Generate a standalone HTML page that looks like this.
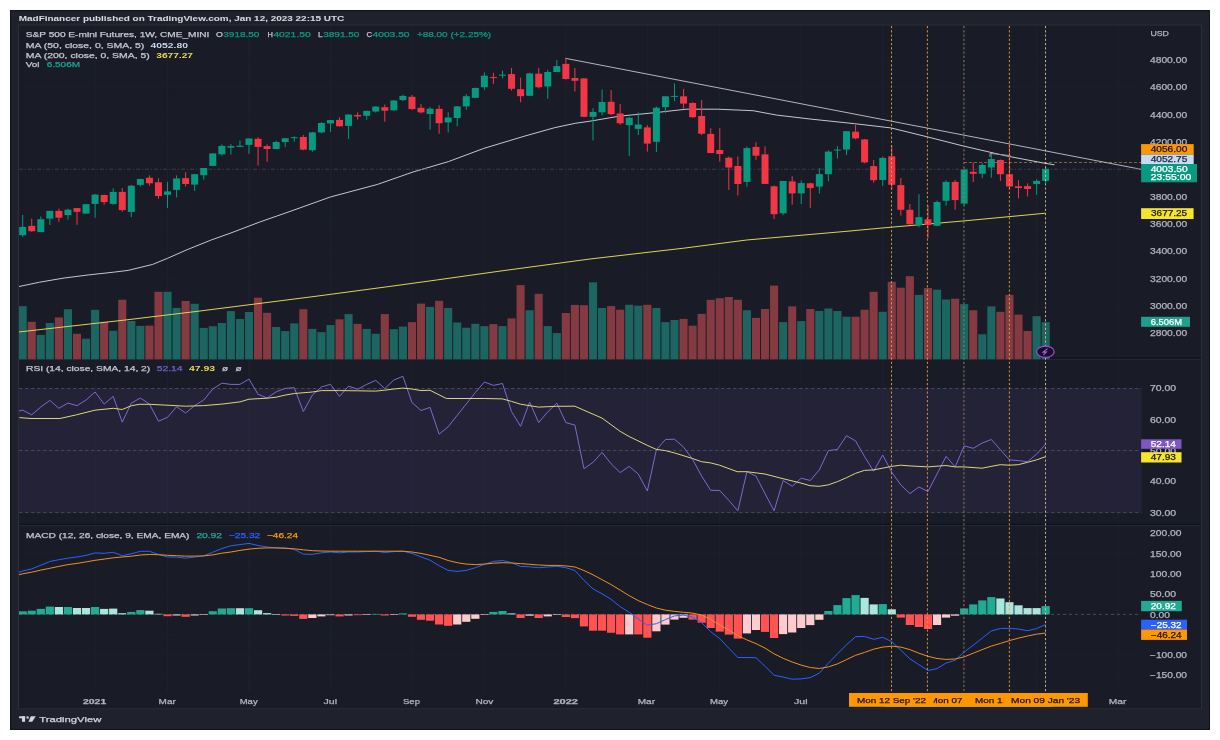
<!DOCTYPE html>
<html><head><meta charset="utf-8"><title>ES1! chart</title>
<style>
html,body{margin:0;padding:0;background:#ffffff;width:1220px;height:740px;overflow:hidden}
svg{display:block;will-change:transform}
text{font-family:"Liberation Sans",sans-serif}
</style></head><body>
<svg width="1220" height="740" viewBox="0 0 1220 740">
<rect x="0" y="0" width="1220" height="740" fill="#ffffff"/>
<rect x="10" y="10" width="1200" height="720" fill="#1f222d"/>
<rect x="10.5" y="10.5" width="1199" height="719" fill="none" stroke="#10121a" stroke-width="1"/>
<text x="18.8" y="21.4" font-size="8" fill="#d8dae0" font-weight="bold" stroke="#d8dae0" stroke-width="0.05" textLength="325.4" lengthAdjust="spacingAndGlyphs">MadFinancer published on TradingView.com, Jan 12, 2023 22:15 UTC</text>
<rect x="18.5" y="25" width="1183" height="683.8" fill="#191c27" stroke="#2a2e39" stroke-width="1"/>
<defs><clipPath id="cp"><rect x="19" y="26" width="1122.5" height="333.5"/></clipPath><clipPath id="cr"><rect x="19" y="359" width="1122.5" height="166"/></clipPath><clipPath id="cm"><rect x="19" y="526" width="1122.5" height="166"/></clipPath></defs>
<line x1="95.1" y1="26" x2="95.1" y2="692" stroke="#1e222e" stroke-width="1"/>
<line x1="167.52" y1="26" x2="167.52" y2="692" stroke="#1e222e" stroke-width="1"/>
<line x1="249" y1="26" x2="249" y2="692" stroke="#1e222e" stroke-width="1"/>
<line x1="330.48" y1="26" x2="330.48" y2="692" stroke="#1e222e" stroke-width="1"/>
<line x1="411.96" y1="26" x2="411.96" y2="692" stroke="#1e222e" stroke-width="1"/>
<line x1="484.38" y1="26" x2="484.38" y2="692" stroke="#1e222e" stroke-width="1"/>
<line x1="565.86" y1="26" x2="565.86" y2="692" stroke="#1e222e" stroke-width="1"/>
<line x1="647.33" y1="26" x2="647.33" y2="692" stroke="#1e222e" stroke-width="1"/>
<line x1="719.76" y1="26" x2="719.76" y2="692" stroke="#1e222e" stroke-width="1"/>
<line x1="801.23" y1="26" x2="801.23" y2="692" stroke="#1e222e" stroke-width="1"/>
<line x1="882.71" y1="26" x2="882.71" y2="692" stroke="#1e222e" stroke-width="1"/>
<line x1="964.19" y1="26" x2="964.19" y2="692" stroke="#1e222e" stroke-width="1"/>
<line x1="1036.61" y1="26" x2="1036.61" y2="692" stroke="#1e222e" stroke-width="1"/>
<line x1="1118.09" y1="26" x2="1118.09" y2="692" stroke="#1e222e" stroke-width="1"/>
<line x1="19" y1="60.2" x2="1141.5" y2="60.2" stroke="#1c1f2a" stroke-width="1"/>
<line x1="19" y1="87.52" x2="1141.5" y2="87.52" stroke="#1c1f2a" stroke-width="1"/>
<line x1="19" y1="114.84" x2="1141.5" y2="114.84" stroke="#1c1f2a" stroke-width="1"/>
<line x1="19" y1="142.16" x2="1141.5" y2="142.16" stroke="#1c1f2a" stroke-width="1"/>
<line x1="19" y1="169.48" x2="1141.5" y2="169.48" stroke="#1c1f2a" stroke-width="1"/>
<line x1="19" y1="196.8" x2="1141.5" y2="196.8" stroke="#1c1f2a" stroke-width="1"/>
<line x1="19" y1="224.12" x2="1141.5" y2="224.12" stroke="#1c1f2a" stroke-width="1"/>
<line x1="19" y1="251.44" x2="1141.5" y2="251.44" stroke="#1c1f2a" stroke-width="1"/>
<line x1="19" y1="278.76" x2="1141.5" y2="278.76" stroke="#1c1f2a" stroke-width="1"/>
<line x1="19" y1="306.08" x2="1141.5" y2="306.08" stroke="#1c1f2a" stroke-width="1"/>
<line x1="19" y1="333.4" x2="1141.5" y2="333.4" stroke="#1c1f2a" stroke-width="1"/>
<rect x="19" y="388.5" width="1122.5" height="124.1" fill="#7e57c2" fill-opacity="0.1"/>
<line x1="19" y1="388.5" x2="1141.5" y2="388.5" stroke="#787b86" stroke-opacity="0.45" stroke-width="1" stroke-dasharray="3.5,2.5"/>
<line x1="19" y1="450.55" x2="1141.5" y2="450.55" stroke="#787b86" stroke-opacity="0.45" stroke-width="1" stroke-dasharray="3.5,2.5"/>
<line x1="19" y1="512.6" x2="1141.5" y2="512.6" stroke="#787b86" stroke-opacity="0.45" stroke-width="1" stroke-dasharray="3.5,2.5"/>
<line x1="19" y1="533.2" x2="1141.5" y2="533.2" stroke="#1c1f2a" stroke-width="1"/>
<line x1="19" y1="553.5" x2="1141.5" y2="553.5" stroke="#1c1f2a" stroke-width="1"/>
<line x1="19" y1="573.8" x2="1141.5" y2="573.8" stroke="#1c1f2a" stroke-width="1"/>
<line x1="19" y1="594.1" x2="1141.5" y2="594.1" stroke="#1c1f2a" stroke-width="1"/>
<line x1="19" y1="614.4" x2="1141.5" y2="614.4" stroke="#1c1f2a" stroke-width="1"/>
<line x1="19" y1="634.7" x2="1141.5" y2="634.7" stroke="#1c1f2a" stroke-width="1"/>
<line x1="19" y1="655" x2="1141.5" y2="655" stroke="#1c1f2a" stroke-width="1"/>
<line x1="19" y1="675.3" x2="1141.5" y2="675.3" stroke="#1c1f2a" stroke-width="1"/>
<line x1="19" y1="359.3" x2="1201" y2="359.3" stroke="#262a35" stroke-width="1"/>
<line x1="19" y1="358" x2="1201" y2="358" stroke="#0f1118" stroke-width="1.2"/>
<line x1="19" y1="525.6" x2="1201" y2="525.6" stroke="#262a35" stroke-width="1"/>
<line x1="19" y1="524.3" x2="1201" y2="524.3" stroke="#0f1118" stroke-width="1.2"/>
<line x1="19" y1="692" x2="1201" y2="692" stroke="#1c1f2a" stroke-width="1"/>
<g clip-path="url(#cp)">
<rect x="18.63" y="306.2" width="8.1" height="53.3" fill="#1d6560"/>
<rect x="27.68" y="321.8" width="8.1" height="37.7" fill="#843a40"/>
<rect x="36.73" y="334.9" width="8.1" height="24.6" fill="#1d6560"/>
<rect x="45.78" y="323" width="8.1" height="36.5" fill="#1d6560"/>
<rect x="54.84" y="317.4" width="8.1" height="42.1" fill="#843a40"/>
<rect x="63.89" y="309.2" width="8.1" height="50.3" fill="#1d6560"/>
<rect x="72.94" y="333.8" width="8.1" height="25.7" fill="#843a40"/>
<rect x="82" y="338.7" width="8.1" height="20.8" fill="#1d6560"/>
<rect x="91.05" y="309.8" width="8.1" height="49.7" fill="#1d6560"/>
<rect x="100.1" y="321.8" width="8.1" height="37.7" fill="#843a40"/>
<rect x="109.16" y="330.8" width="8.1" height="28.7" fill="#1d6560"/>
<rect x="118.21" y="299.7" width="8.1" height="59.8" fill="#843a40"/>
<rect x="127.26" y="321" width="8.1" height="38.5" fill="#1d6560"/>
<rect x="136.31" y="325.9" width="8.1" height="33.6" fill="#1d6560"/>
<rect x="145.37" y="325.6" width="8.1" height="33.9" fill="#843a40"/>
<rect x="154.42" y="291.8" width="8.1" height="67.7" fill="#843a40"/>
<rect x="163.47" y="291.8" width="8.1" height="67.7" fill="#1d6560"/>
<rect x="172.53" y="307.9" width="8.1" height="51.6" fill="#1d6560"/>
<rect x="181.58" y="301" width="8.1" height="58.5" fill="#843a40"/>
<rect x="190.63" y="303.8" width="8.1" height="55.7" fill="#1d6560"/>
<rect x="199.69" y="327.9" width="8.1" height="31.6" fill="#1d6560"/>
<rect x="208.74" y="326.2" width="8.1" height="33.3" fill="#1d6560"/>
<rect x="217.79" y="323" width="8.1" height="36.5" fill="#1d6560"/>
<rect x="226.84" y="311.1" width="8.1" height="48.4" fill="#1d6560"/>
<rect x="235.9" y="319" width="8.1" height="40.5" fill="#1d6560"/>
<rect x="244.95" y="312" width="8.1" height="47.5" fill="#1d6560"/>
<rect x="254" y="297.7" width="8.1" height="61.8" fill="#843a40"/>
<rect x="263.06" y="312.8" width="8.1" height="46.7" fill="#843a40"/>
<rect x="272.11" y="327" width="8.1" height="32.5" fill="#1d6560"/>
<rect x="281.16" y="331.1" width="8.1" height="28.4" fill="#1d6560"/>
<rect x="290.22" y="323.4" width="8.1" height="36.1" fill="#1d6560"/>
<rect x="299.27" y="309.2" width="8.1" height="50.3" fill="#843a40"/>
<rect x="308.32" y="328.9" width="8.1" height="30.6" fill="#1d6560"/>
<rect x="317.38" y="332.1" width="8.1" height="27.4" fill="#1d6560"/>
<rect x="326.43" y="325.1" width="8.1" height="34.4" fill="#1d6560"/>
<rect x="335.48" y="319.3" width="8.1" height="40.2" fill="#843a40"/>
<rect x="344.53" y="314.1" width="8.1" height="45.4" fill="#1d6560"/>
<rect x="353.59" y="323.9" width="8.1" height="35.6" fill="#843a40"/>
<rect x="362.64" y="328.9" width="8.1" height="30.6" fill="#1d6560"/>
<rect x="371.69" y="333.8" width="8.1" height="25.7" fill="#1d6560"/>
<rect x="380.75" y="314.1" width="8.1" height="45.4" fill="#843a40"/>
<rect x="389.8" y="329.2" width="8.1" height="30.3" fill="#1d6560"/>
<rect x="398.85" y="326.6" width="8.1" height="32.9" fill="#1d6560"/>
<rect x="407.91" y="322.1" width="8.1" height="37.4" fill="#843a40"/>
<rect x="416.96" y="303.6" width="8.1" height="55.9" fill="#843a40"/>
<rect x="426.01" y="306.9" width="8.1" height="52.6" fill="#1d6560"/>
<rect x="435.06" y="300.8" width="8.1" height="58.7" fill="#843a40"/>
<rect x="444.12" y="308" width="8.1" height="51.5" fill="#1d6560"/>
<rect x="453.17" y="322.5" width="8.1" height="37" fill="#1d6560"/>
<rect x="462.22" y="327.7" width="8.1" height="31.8" fill="#1d6560"/>
<rect x="471.28" y="323.8" width="8.1" height="35.7" fill="#1d6560"/>
<rect x="480.33" y="326.1" width="8.1" height="33.4" fill="#1d6560"/>
<rect x="489.38" y="324.1" width="8.1" height="35.4" fill="#843a40"/>
<rect x="498.44" y="326.1" width="8.1" height="33.4" fill="#1d6560"/>
<rect x="507.49" y="318.4" width="8.1" height="41.1" fill="#843a40"/>
<rect x="516.54" y="285.1" width="8.1" height="74.4" fill="#843a40"/>
<rect x="525.59" y="310.2" width="8.1" height="49.3" fill="#1d6560"/>
<rect x="534.65" y="293.8" width="8.1" height="65.7" fill="#843a40"/>
<rect x="543.7" y="326.1" width="8.1" height="33.4" fill="#1d6560"/>
<rect x="552.75" y="333.1" width="8.1" height="26.4" fill="#1d6560"/>
<rect x="561.81" y="313" width="8.1" height="46.5" fill="#843a40"/>
<rect x="570.86" y="304.9" width="8.1" height="54.6" fill="#843a40"/>
<rect x="579.91" y="305.2" width="8.1" height="54.3" fill="#843a40"/>
<rect x="588.97" y="282.3" width="8.1" height="77.2" fill="#1d6560"/>
<rect x="598.02" y="308" width="8.1" height="51.5" fill="#1d6560"/>
<rect x="607.07" y="306.1" width="8.1" height="53.4" fill="#843a40"/>
<rect x="616.12" y="309.7" width="8.1" height="49.8" fill="#843a40"/>
<rect x="625.18" y="304.8" width="8.1" height="54.7" fill="#1d6560"/>
<rect x="634.23" y="305.7" width="8.1" height="53.8" fill="#1d6560"/>
<rect x="643.28" y="304.8" width="8.1" height="54.7" fill="#843a40"/>
<rect x="652.34" y="308" width="8.1" height="51.5" fill="#1d6560"/>
<rect x="661.39" y="322.1" width="8.1" height="37.4" fill="#1d6560"/>
<rect x="670.44" y="320" width="8.1" height="39.5" fill="#1d6560"/>
<rect x="679.5" y="318.9" width="8.1" height="40.6" fill="#843a40"/>
<rect x="688.55" y="325.7" width="8.1" height="33.8" fill="#843a40"/>
<rect x="697.6" y="313.9" width="8.1" height="45.6" fill="#843a40"/>
<rect x="706.65" y="299.8" width="8.1" height="59.7" fill="#843a40"/>
<rect x="715.71" y="298.2" width="8.1" height="61.3" fill="#843a40"/>
<rect x="724.76" y="297" width="8.1" height="62.5" fill="#843a40"/>
<rect x="733.81" y="299.8" width="8.1" height="59.7" fill="#843a40"/>
<rect x="742.87" y="310.2" width="8.1" height="49.3" fill="#1d6560"/>
<rect x="751.92" y="317.9" width="8.1" height="41.6" fill="#843a40"/>
<rect x="760.97" y="309" width="8.1" height="50.5" fill="#843a40"/>
<rect x="770.03" y="285.6" width="8.1" height="73.9" fill="#843a40"/>
<rect x="779.08" y="322.1" width="8.1" height="37.4" fill="#1d6560"/>
<rect x="788.13" y="306.4" width="8.1" height="53.1" fill="#843a40"/>
<rect x="797.18" y="321.1" width="8.1" height="38.4" fill="#1d6560"/>
<rect x="806.24" y="309" width="8.1" height="50.5" fill="#843a40"/>
<rect x="815.29" y="311" width="8.1" height="48.5" fill="#1d6560"/>
<rect x="824.34" y="308.5" width="8.1" height="51" fill="#1d6560"/>
<rect x="833.4" y="311" width="8.1" height="48.5" fill="#1d6560"/>
<rect x="842.45" y="316.7" width="8.1" height="42.8" fill="#1d6560"/>
<rect x="851.5" y="316.7" width="8.1" height="42.8" fill="#843a40"/>
<rect x="860.56" y="309.7" width="8.1" height="49.8" fill="#843a40"/>
<rect x="869.61" y="291.8" width="8.1" height="67.7" fill="#843a40"/>
<rect x="878.66" y="311.8" width="8.1" height="47.7" fill="#1d6560"/>
<rect x="887.71" y="281.8" width="8.1" height="77.7" fill="#843a40"/>
<rect x="896.77" y="287.7" width="8.1" height="71.8" fill="#843a40"/>
<rect x="905.82" y="276.2" width="8.1" height="83.3" fill="#843a40"/>
<rect x="914.87" y="294.9" width="8.1" height="64.6" fill="#1d6560"/>
<rect x="923.93" y="288" width="8.1" height="71.5" fill="#843a40"/>
<rect x="932.98" y="289.7" width="8.1" height="69.8" fill="#1d6560"/>
<rect x="942.03" y="299.5" width="8.1" height="60" fill="#1d6560"/>
<rect x="951.09" y="298.7" width="8.1" height="60.8" fill="#843a40"/>
<rect x="960.14" y="304.1" width="8.1" height="55.4" fill="#1d6560"/>
<rect x="969.19" y="310.2" width="8.1" height="49.3" fill="#843a40"/>
<rect x="978.24" y="334.3" width="8.1" height="25.2" fill="#1d6560"/>
<rect x="987.3" y="306.4" width="8.1" height="53.1" fill="#1d6560"/>
<rect x="996.35" y="311.8" width="8.1" height="47.7" fill="#843a40"/>
<rect x="1005.4" y="294.9" width="8.1" height="64.6" fill="#843a40"/>
<rect x="1014.46" y="314.6" width="8.1" height="44.9" fill="#843a40"/>
<rect x="1023.51" y="331" width="8.1" height="28.5" fill="#843a40"/>
<rect x="1032.56" y="316.2" width="8.1" height="43.3" fill="#1d6560"/>
<rect x="1041.62" y="322.1" width="8.1" height="37.4" fill="#1d6560"/>
<polyline fill="none" stroke="#e0d35a" stroke-width="1" points="18.7,332 128,319.7 200,311 315,296.4 390,286.4 436.6,280 500,271.1 590,259 683.6,248.2 746.7,240 850,231 880,228.2 964,220.9 1030,214.7 1045.5,213.2"/>
<polyline fill="none" stroke="#c3c7d3" stroke-width="1" points="18.7,286.6 39.6,282.2 64.2,278 88.8,274.9 113.4,272.2 128.1,270.4 152.7,264.4 167.5,258.3 187.1,249.7 211.7,239.8 230,233.3 259.5,222.1 289,211.8 330.3,197 377.5,184.4 413,172 448.4,161.6 483.8,148.4 525,136 554.6,127.7 575.2,123.3 590,121.2 619.3,116.2 654.8,112.7 686.2,109.2 717.7,109.2 753.1,110.7 776.7,115.1 810,119 854.6,123.7 890.8,127.9 927.1,136.8 963.3,146 1005.1,155.7 1045.5,163.4 1054.5,164.8"/>
<line x1="565.3" y1="58.3" x2="1141.5" y2="169.4" stroke="#b2b5be" stroke-width="1"/>
<line x1="19" y1="169.2" x2="1141.5" y2="169.2" stroke="#3a3f4c" stroke-width="1" stroke-dasharray="4,2,1,2"/>
<line x1="964" y1="162.5" x2="1141.5" y2="162.5" stroke="#ffb74d" stroke-opacity="0.45" stroke-width="1" stroke-dasharray="3,2"/>
<polyline fill="none" stroke="#9598a1" stroke-width="1" points="990,157 990,153.4 1010.5,155.6"/>
<rect x="22.18" y="215" width="1" height="21.8" fill="#089981"/>
<rect x="19.18" y="226.9" width="7" height="8.3" fill="#089981"/>
<rect x="31.23" y="218.7" width="1" height="13.1" fill="#f23645"/>
<rect x="28.23" y="225.9" width="7" height="5.3" fill="#f23645"/>
<rect x="40.28" y="216.5" width="1" height="15.6" fill="#089981"/>
<rect x="37.28" y="219.2" width="7" height="12.9" fill="#089981"/>
<rect x="49.33" y="210.7" width="1" height="14.3" fill="#089981"/>
<rect x="46.33" y="210.9" width="7" height="7.7" fill="#089981"/>
<rect x="58.39" y="208.7" width="1" height="13.1" fill="#f23645"/>
<rect x="55.39" y="210.9" width="7" height="6.8" fill="#f23645"/>
<rect x="67.44" y="208.7" width="1" height="10.9" fill="#089981"/>
<rect x="64.44" y="209.7" width="7" height="5.3" fill="#089981"/>
<rect x="76.49" y="207.9" width="1" height="16.9" fill="#f23645"/>
<rect x="73.49" y="208.1" width="7" height="3.7" fill="#f23645"/>
<rect x="85.55" y="203.8" width="1" height="9.8" fill="#089981"/>
<rect x="82.55" y="204.2" width="7" height="9.4" fill="#089981"/>
<rect x="94.6" y="194.1" width="1" height="23.6" fill="#089981"/>
<rect x="91.6" y="194.6" width="7" height="9.3" fill="#089981"/>
<rect x="103.65" y="194.6" width="1" height="10.2" fill="#f23645"/>
<rect x="100.65" y="195" width="7" height="7.1" fill="#f23645"/>
<rect x="112.71" y="188.4" width="1" height="16.4" fill="#089981"/>
<rect x="109.71" y="191.9" width="7" height="12" fill="#089981"/>
<rect x="121.76" y="188" width="1" height="23.8" fill="#f23645"/>
<rect x="118.76" y="191.9" width="7" height="18.2" fill="#f23645"/>
<rect x="130.81" y="184.9" width="1" height="32.2" fill="#089981"/>
<rect x="127.81" y="185.7" width="7" height="26.2" fill="#089981"/>
<rect x="139.87" y="178.6" width="1" height="7.8" fill="#089981"/>
<rect x="136.87" y="179" width="7" height="5.9" fill="#089981"/>
<rect x="148.92" y="175.3" width="1" height="10.4" fill="#f23645"/>
<rect x="145.92" y="177.7" width="7" height="5.6" fill="#f23645"/>
<rect x="157.97" y="178.3" width="1" height="20.4" fill="#f23645"/>
<rect x="154.97" y="182.3" width="7" height="13.7" fill="#f23645"/>
<rect x="167.02" y="181.8" width="1" height="26.2" fill="#089981"/>
<rect x="164.02" y="191.4" width="7" height="3.4" fill="#089981"/>
<rect x="176.08" y="175.4" width="1" height="22.1" fill="#089981"/>
<rect x="173.08" y="178.5" width="7" height="11.4" fill="#089981"/>
<rect x="185.13" y="172.3" width="1" height="14.2" fill="#f23645"/>
<rect x="182.13" y="178.1" width="7" height="5.9" fill="#f23645"/>
<rect x="194.18" y="174.2" width="1" height="16.6" fill="#089981"/>
<rect x="191.18" y="174.2" width="7" height="10.4" fill="#089981"/>
<rect x="203.24" y="168" width="1" height="11.7" fill="#089981"/>
<rect x="200.24" y="168" width="7" height="7.2" fill="#089981"/>
<rect x="212.29" y="153.3" width="1" height="12.6" fill="#089981"/>
<rect x="209.29" y="153.5" width="7" height="12.4" fill="#089981"/>
<rect x="221.34" y="144.4" width="1" height="11.1" fill="#089981"/>
<rect x="218.34" y="145.9" width="7" height="8.4" fill="#089981"/>
<rect x="230.4" y="144.1" width="1" height="10.4" fill="#089981"/>
<rect x="227.4" y="146.1" width="7" height="1.6" fill="#089981"/>
<rect x="239.45" y="140.4" width="1" height="6.7" fill="#089981"/>
<rect x="236.45" y="145.7" width="7" height="1.2" fill="#089981"/>
<rect x="248.5" y="138.3" width="1" height="15.6" fill="#089981"/>
<rect x="245.5" y="138.5" width="7" height="6.4" fill="#089981"/>
<rect x="257.55" y="137.3" width="1" height="28.3" fill="#f23645"/>
<rect x="254.55" y="138.8" width="7" height="8.1" fill="#f23645"/>
<rect x="266.61" y="144.4" width="1" height="17.5" fill="#f23645"/>
<rect x="263.61" y="146.1" width="7" height="2.9" fill="#f23645"/>
<rect x="275.66" y="140.7" width="1" height="8.6" fill="#089981"/>
<rect x="272.66" y="142" width="7" height="7" fill="#089981"/>
<rect x="284.71" y="137.9" width="1" height="9" fill="#089981"/>
<rect x="281.71" y="138.3" width="7" height="3.7" fill="#089981"/>
<rect x="293.77" y="136.4" width="1" height="5.2" fill="#089981"/>
<rect x="290.77" y="137.2" width="7" height="1" fill="#089981"/>
<rect x="302.82" y="134.9" width="1" height="15.3" fill="#f23645"/>
<rect x="299.82" y="137" width="7" height="12.6" fill="#f23645"/>
<rect x="311.87" y="131.8" width="1" height="19.9" fill="#089981"/>
<rect x="308.87" y="132.4" width="7" height="17.8" fill="#089981"/>
<rect x="320.93" y="122.2" width="1" height="11.1" fill="#089981"/>
<rect x="317.93" y="123" width="7" height="9.4" fill="#089981"/>
<rect x="329.98" y="119.8" width="1" height="12" fill="#089981"/>
<rect x="326.98" y="120.1" width="7" height="3.3" fill="#089981"/>
<rect x="339.03" y="117.3" width="1" height="9.3" fill="#f23645"/>
<rect x="336.03" y="119.9" width="7" height="6.4" fill="#f23645"/>
<rect x="348.08" y="114" width="1" height="24.9" fill="#089981"/>
<rect x="345.08" y="114.6" width="7" height="11.3" fill="#089981"/>
<rect x="357.14" y="112.4" width="1" height="7.1" fill="#f23645"/>
<rect x="354.14" y="115" width="7" height="1.4" fill="#f23645"/>
<rect x="366.19" y="110.7" width="1" height="9.1" fill="#089981"/>
<rect x="363.19" y="110.9" width="7" height="4.9" fill="#089981"/>
<rect x="375.24" y="106" width="1" height="6.7" fill="#089981"/>
<rect x="372.24" y="106.6" width="7" height="4.9" fill="#089981"/>
<rect x="384.3" y="104.5" width="1" height="17.2" fill="#f23645"/>
<rect x="381.3" y="107.2" width="7" height="3.5" fill="#f23645"/>
<rect x="393.35" y="100.1" width="1" height="10.6" fill="#089981"/>
<rect x="390.35" y="100.5" width="7" height="9.8" fill="#089981"/>
<rect x="402.4" y="94.7" width="1" height="6.4" fill="#089981"/>
<rect x="399.4" y="95.9" width="7" height="4.2" fill="#089981"/>
<rect x="411.46" y="94.9" width="1" height="14.8" fill="#f23645"/>
<rect x="408.46" y="96.8" width="7" height="12.3" fill="#f23645"/>
<rect x="420.51" y="104.1" width="1" height="9.3" fill="#f23645"/>
<rect x="417.51" y="107.8" width="7" height="4.6" fill="#f23645"/>
<rect x="429.56" y="107" width="1" height="22.6" fill="#089981"/>
<rect x="426.56" y="108.7" width="7" height="5.3" fill="#089981"/>
<rect x="438.61" y="105.2" width="1" height="28.5" fill="#f23645"/>
<rect x="435.61" y="108.9" width="7" height="14.3" fill="#f23645"/>
<rect x="447.67" y="112.2" width="1" height="20.3" fill="#089981"/>
<rect x="444.67" y="117.5" width="7" height="4.9" fill="#089981"/>
<rect x="456.72" y="106" width="1" height="20.3" fill="#089981"/>
<rect x="453.72" y="106.4" width="7" height="11.6" fill="#089981"/>
<rect x="465.77" y="94.1" width="1" height="15.6" fill="#089981"/>
<rect x="462.77" y="96.2" width="7" height="10.2" fill="#089981"/>
<rect x="474.83" y="87.6" width="1" height="10.4" fill="#089981"/>
<rect x="471.83" y="88" width="7" height="9.8" fill="#089981"/>
<rect x="483.88" y="72.5" width="1" height="17.2" fill="#089981"/>
<rect x="480.88" y="75.7" width="7" height="11.5" fill="#089981"/>
<rect x="492.93" y="72.8" width="1" height="11.1" fill="#f23645"/>
<rect x="489.93" y="77.1" width="7" height="1" fill="#f23645"/>
<rect x="501.99" y="70.7" width="1" height="7.7" fill="#089981"/>
<rect x="498.99" y="74.7" width="7" height="1" fill="#089981"/>
<rect x="511.04" y="67.9" width="1" height="22.8" fill="#f23645"/>
<rect x="508.04" y="74.1" width="7" height="14.7" fill="#f23645"/>
<rect x="520.09" y="77.7" width="1" height="24.6" fill="#f23645"/>
<rect x="517.09" y="89.2" width="7" height="7" fill="#f23645"/>
<rect x="529.14" y="72.8" width="1" height="23.4" fill="#089981"/>
<rect x="526.14" y="73.4" width="7" height="22.4" fill="#089981"/>
<rect x="538.2" y="67.9" width="1" height="20.5" fill="#f23645"/>
<rect x="535.2" y="73.7" width="7" height="13.5" fill="#f23645"/>
<rect x="547.25" y="69.8" width="1" height="28.9" fill="#089981"/>
<rect x="544.25" y="72" width="7" height="14.4" fill="#089981"/>
<rect x="556.3" y="60.2" width="1" height="12" fill="#089981"/>
<rect x="553.3" y="66.1" width="7" height="5.9" fill="#089981"/>
<rect x="565.36" y="58.4" width="1" height="21.2" fill="#f23645"/>
<rect x="562.36" y="63.9" width="7" height="15.1" fill="#f23645"/>
<rect x="574.41" y="68" width="1" height="23.5" fill="#f23645"/>
<rect x="571.41" y="78" width="7" height="2.8" fill="#f23645"/>
<rect x="583.46" y="78.2" width="1" height="39" fill="#f23645"/>
<rect x="580.46" y="78.4" width="7" height="38.4" fill="#f23645"/>
<rect x="592.51" y="108.2" width="1" height="32.2" fill="#089981"/>
<rect x="589.51" y="111.9" width="7" height="4.9" fill="#089981"/>
<rect x="601.57" y="89.5" width="1" height="25.8" fill="#089981"/>
<rect x="598.57" y="102" width="7" height="10.3" fill="#089981"/>
<rect x="610.62" y="90.1" width="1" height="25.2" fill="#f23645"/>
<rect x="607.62" y="101.8" width="7" height="12.3" fill="#f23645"/>
<rect x="619.67" y="104" width="1" height="20.9" fill="#f23645"/>
<rect x="616.67" y="113.5" width="7" height="9.8" fill="#f23645"/>
<rect x="628.73" y="116.8" width="1" height="39.1" fill="#089981"/>
<rect x="625.73" y="117.8" width="7" height="7.4" fill="#089981"/>
<rect x="637.78" y="112.3" width="1" height="22.7" fill="#089981"/>
<rect x="634.78" y="124.6" width="7" height="4.3" fill="#089981"/>
<rect x="646.83" y="125.2" width="1" height="26.4" fill="#f23645"/>
<rect x="643.83" y="127.4" width="7" height="16.2" fill="#f23645"/>
<rect x="655.89" y="106.5" width="1" height="45.4" fill="#089981"/>
<rect x="652.89" y="107.7" width="7" height="34.1" fill="#089981"/>
<rect x="664.94" y="96.3" width="1" height="16.6" fill="#089981"/>
<rect x="661.94" y="96.3" width="7" height="10.8" fill="#089981"/>
<rect x="673.99" y="83.4" width="1" height="17.8" fill="#089981"/>
<rect x="670.99" y="95.9" width="7" height="1" fill="#089981"/>
<rect x="683.05" y="88.9" width="1" height="19.7" fill="#f23645"/>
<rect x="680.05" y="96.3" width="7" height="7.3" fill="#f23645"/>
<rect x="692.1" y="102.4" width="1" height="15.4" fill="#f23645"/>
<rect x="689.1" y="103" width="7" height="14.2" fill="#f23645"/>
<rect x="701.15" y="100" width="1" height="35" fill="#f23645"/>
<rect x="698.15" y="116" width="7" height="17.7" fill="#f23645"/>
<rect x="710.2" y="128.2" width="1" height="25.1" fill="#f23645"/>
<rect x="707.2" y="133.9" width="7" height="19.1" fill="#f23645"/>
<rect x="719.26" y="128.2" width="1" height="33.4" fill="#f23645"/>
<rect x="716.26" y="150" width="7" height="4" fill="#f23645"/>
<rect x="728.31" y="156.5" width="1" height="33.4" fill="#f23645"/>
<rect x="725.31" y="157.7" width="7" height="9.8" fill="#f23645"/>
<rect x="737.36" y="156.5" width="1" height="39" fill="#f23645"/>
<rect x="734.36" y="166" width="7" height="18" fill="#f23645"/>
<rect x="746.42" y="146.6" width="1" height="40.2" fill="#089981"/>
<rect x="743.42" y="148.1" width="7" height="33.8" fill="#089981"/>
<rect x="755.47" y="142.2" width="1" height="17.6" fill="#f23645"/>
<rect x="752.47" y="146.9" width="7" height="8.8" fill="#f23645"/>
<rect x="764.52" y="146.3" width="1" height="37.7" fill="#f23645"/>
<rect x="761.52" y="154.4" width="7" height="29.5" fill="#f23645"/>
<rect x="773.58" y="185.5" width="1" height="33.4" fill="#f23645"/>
<rect x="770.58" y="186.3" width="7" height="27.9" fill="#f23645"/>
<rect x="782.63" y="180.8" width="1" height="34.4" fill="#089981"/>
<rect x="779.63" y="181" width="7" height="32.3" fill="#089981"/>
<rect x="791.68" y="176.2" width="1" height="28.5" fill="#f23645"/>
<rect x="788.68" y="181.4" width="7" height="12" fill="#f23645"/>
<rect x="800.73" y="180.4" width="1" height="23.7" fill="#089981"/>
<rect x="797.73" y="183.1" width="7" height="10.3" fill="#089981"/>
<rect x="809.79" y="182.6" width="1" height="25.2" fill="#f23645"/>
<rect x="806.79" y="183.3" width="7" height="4.8" fill="#f23645"/>
<rect x="818.84" y="168.1" width="1" height="25.5" fill="#089981"/>
<rect x="815.84" y="174.1" width="7" height="12.5" fill="#089981"/>
<rect x="827.89" y="150.3" width="1" height="31" fill="#089981"/>
<rect x="824.89" y="151.6" width="7" height="22.6" fill="#089981"/>
<rect x="836.95" y="146.3" width="1" height="12.3" fill="#089981"/>
<rect x="833.95" y="149.6" width="7" height="1" fill="#089981"/>
<rect x="846" y="130.9" width="1" height="24.1" fill="#089981"/>
<rect x="843" y="131.2" width="7" height="18.3" fill="#089981"/>
<rect x="855.05" y="124.9" width="1" height="14.5" fill="#f23645"/>
<rect x="852.05" y="131.7" width="7" height="6.7" fill="#f23645"/>
<rect x="864.11" y="139" width="1" height="24.3" fill="#f23645"/>
<rect x="861.11" y="139.4" width="7" height="23" fill="#f23645"/>
<rect x="873.16" y="160" width="1" height="22.7" fill="#f23645"/>
<rect x="870.16" y="166.1" width="7" height="14.1" fill="#f23645"/>
<rect x="882.21" y="156.6" width="1" height="29.2" fill="#089981"/>
<rect x="879.21" y="157.9" width="7" height="22.1" fill="#089981"/>
<rect x="891.26" y="145.2" width="1" height="44.3" fill="#f23645"/>
<rect x="888.26" y="156.3" width="7" height="28.5" fill="#f23645"/>
<rect x="900.32" y="178" width="1" height="37.6" fill="#f23645"/>
<rect x="897.32" y="185.1" width="7" height="24.7" fill="#f23645"/>
<rect x="909.37" y="204" width="1" height="20.6" fill="#f23645"/>
<rect x="906.37" y="209.8" width="7" height="14.4" fill="#f23645"/>
<rect x="918.42" y="194.2" width="1" height="33.2" fill="#089981"/>
<rect x="915.42" y="217.2" width="7" height="8" fill="#089981"/>
<rect x="927.48" y="205.2" width="1" height="32.9" fill="#f23645"/>
<rect x="924.48" y="219.3" width="7" height="5.6" fill="#f23645"/>
<rect x="936.53" y="200.6" width="1" height="25.6" fill="#089981"/>
<rect x="933.53" y="202" width="7" height="23.8" fill="#089981"/>
<rect x="945.58" y="180.3" width="1" height="25.4" fill="#089981"/>
<rect x="942.58" y="181.9" width="7" height="18.9" fill="#089981"/>
<rect x="954.64" y="179.9" width="1" height="29.9" fill="#f23645"/>
<rect x="951.64" y="181.9" width="7" height="18.2" fill="#f23645"/>
<rect x="963.69" y="168.6" width="1" height="36.9" fill="#089981"/>
<rect x="960.69" y="169.5" width="7" height="34.1" fill="#089981"/>
<rect x="972.74" y="162.5" width="1" height="19.5" fill="#f23645"/>
<rect x="969.74" y="171.8" width="7" height="2" fill="#f23645"/>
<rect x="981.79" y="163.2" width="1" height="15.1" fill="#089981"/>
<rect x="978.79" y="165" width="7" height="8.7" fill="#089981"/>
<rect x="990.85" y="154.1" width="1" height="23.6" fill="#089981"/>
<rect x="987.85" y="159" width="7" height="8.5" fill="#089981"/>
<rect x="999.9" y="159.5" width="1" height="21.5" fill="#f23645"/>
<rect x="996.9" y="160" width="7" height="14.2" fill="#f23645"/>
<rect x="1008.95" y="143.3" width="1" height="45.5" fill="#f23645"/>
<rect x="1005.95" y="174.2" width="7" height="12.3" fill="#f23645"/>
<rect x="1018.01" y="180.2" width="1" height="18.1" fill="#f23645"/>
<rect x="1015.01" y="186.3" width="7" height="1.7" fill="#f23645"/>
<rect x="1027.06" y="183.4" width="1" height="13" fill="#f23645"/>
<rect x="1024.06" y="186.1" width="7" height="2.9" fill="#f23645"/>
<rect x="1036.11" y="179.2" width="1" height="15.7" fill="#089981"/>
<rect x="1033.11" y="180.9" width="7" height="3.2" fill="#089981"/>
<rect x="1045.16" y="167" width="1" height="16" fill="#089981"/>
<rect x="1042.16" y="168.9" width="7" height="12" fill="#089981"/>
</g>
<g clip-path="url(#cr)">
<polyline fill="none" stroke="#8068d4" stroke-width="1" points="19,411 22.68,410.2 31.73,414.8 40.78,407 49.83,400.4 58.89,408.3 67.94,403.1 76.99,405.6 86.05,400 95.1,392 104.15,404.1 113.21,396.4 122.26,422.2 131.31,403.1 140.37,398 149.42,404 158.47,421.2 167.52,417.3 176.58,406.8 185.63,413 194.68,405.6 203.74,400 212.79,389 221.84,383.2 230.9,384.4 239.95,384.4 249,379.1 258.05,394.3 267.11,398 276.16,391.8 285.21,388.4 294.27,387.7 303.32,411.5 312.37,395.1 321.43,386.9 330.48,384.4 339.53,396.4 348.58,386.1 357.64,389.3 366.69,384.4 375.74,380.4 384.8,388.6 393.85,380 402.9,376.3 411.96,402.5 421.01,410.5 430.06,407.4 439.11,434.2 448.17,426.8 457.22,415.3 466.27,404 475.33,392.5 484.38,382 493.43,385.4 502.49,383.5 511.54,411.6 520.59,426.3 529.64,402.2 538.7,422.6 547.75,411.8 556.8,403.2 565.86,422.6 574.91,425.1 583.96,468.7 593.01,462.4 602.07,452.4 611.12,463.8 620.17,472.6 629.23,466.4 638.28,474 647.33,491 656.39,449.7 665.44,439.5 674.49,439.2 683.55,447.1 692.6,459.4 701.65,476.1 710.7,490.3 719.76,490.5 728.81,500.3 737.86,510.8 746.92,471.7 755.97,476.1 765.02,493.6 774.08,510.8 783.13,480.5 792.18,486.3 801.23,478.2 810.29,480.5 819.34,469.9 828.39,450.6 837.45,449.4 846.5,435.7 855.55,440.9 864.61,456.7 873.66,471.2 882.71,455 891.76,472.2 900.82,484.9 909.87,493.6 918.92,487 927.98,491.5 937.03,474 946.08,456.4 955.14,466.9 964.19,445.9 973.24,448.3 982.29,443 991.35,439.5 1000.4,449.7 1009.45,459.9 1018.51,460.6 1027.56,461.7 1036.61,454.1 1045.66,444.1"/>
<polyline fill="none" stroke="#ddd67e" stroke-width="1" points="19.3,417.6 31,418.5 59.9,418.5 76.5,414.8 94.9,410.2 113.4,408.3 122.2,409.5 131.2,405.8 139.2,404.3 150,404.3 185.6,406.2 203.7,405.6 221.8,404.1 239.9,401.9 249,399.2 267.1,398.2 276.2,397.2 285.2,395.1 294.3,393.5 312.4,392 321.4,390.6 339.5,390.6 357.6,390.8 375.7,391.1 384.8,390.2 393.8,389 402.9,388.1 411.9,389 421,390.6 430,390.3 446.4,398.5 484.3,398.5 502.4,398.9 511.5,401.4 520.5,404.2 538.6,407.1 556.7,406.3 574.8,406.2 583.9,410.2 602,418.1 620.1,431.3 629.1,436.5 647.2,445.3 656.3,449.4 665.3,450.6 674.4,452.9 692.5,458.5 701.5,461.7 710.6,462.9 719.6,465.2 737.2,471.7 746.8,471.7 764.9,474 783,478.7 801.1,483.1 810.1,485.7 819.2,486.3 828.2,484.9 837.3,481.7 846.3,477.8 855.4,473.4 864.4,470.4 873.5,469.9 882.5,468.2 891.6,466.4 900.6,465.2 909.7,465.9 927.8,466.9 945.9,465.5 954.9,466.9 964,466.9 982.1,468.2 991.1,466.4 1000.2,464.7 1009.2,465.2 1018.3,464.7 1027.3,462.4 1036.4,459.9 1045.5,456.7"/>
</g>
<g clip-path="url(#cm)">
<line x1="19" y1="614.4" x2="1141.5" y2="614.4" stroke="#787b86" stroke-opacity="0.5" stroke-width="1" stroke-dasharray="3,3"/>
<rect x="18.58" y="611.3" width="8.2" height="3.1" fill="#22ab94"/>
<rect x="27.63" y="610.7" width="8.2" height="3.7" fill="#22ab94"/>
<rect x="36.68" y="608.9" width="8.2" height="5.5" fill="#22ab94"/>
<rect x="45.73" y="606.6" width="8.2" height="7.8" fill="#22ab94"/>
<rect x="54.79" y="607" width="8.2" height="7.4" fill="#ace5dc"/>
<rect x="63.84" y="607" width="8.2" height="7.4" fill="#22ab94"/>
<rect x="72.89" y="608" width="8.2" height="6.4" fill="#ace5dc"/>
<rect x="81.95" y="608" width="8.2" height="6.4" fill="#ace5dc"/>
<rect x="91" y="607" width="8.2" height="7.4" fill="#22ab94"/>
<rect x="100.05" y="608.9" width="8.2" height="5.5" fill="#ace5dc"/>
<rect x="109.11" y="608.6" width="8.2" height="5.8" fill="#ace5dc"/>
<rect x="118.16" y="613.2" width="8.2" height="1.2" fill="#ace5dc"/>
<rect x="127.21" y="611.9" width="8.2" height="2.5" fill="#22ab94"/>
<rect x="136.27" y="610.1" width="8.2" height="4.3" fill="#22ab94"/>
<rect x="145.32" y="610.7" width="8.2" height="3.7" fill="#ace5dc"/>
<rect x="154.37" y="613.8" width="8.2" height="0.6" fill="#ace5dc"/>
<rect x="163.42" y="614.4" width="8.2" height="1.8" fill="#ff5252"/>
<rect x="172.48" y="614.4" width="8.2" height="1.1" fill="#fccbcd"/>
<rect x="181.53" y="614.4" width="8.2" height="2.4" fill="#ff5252"/>
<rect x="190.58" y="614.4" width="8.2" height="1.1" fill="#fccbcd"/>
<rect x="199.64" y="614.4" width="8.2" height="0.6" fill="#fccbcd"/>
<rect x="208.69" y="611.2" width="8.2" height="3.2" fill="#22ab94"/>
<rect x="217.74" y="608.5" width="8.2" height="5.9" fill="#22ab94"/>
<rect x="226.8" y="608.2" width="8.2" height="6.2" fill="#22ab94"/>
<rect x="235.85" y="608.2" width="8.2" height="6.2" fill="#ace5dc"/>
<rect x="244.9" y="608.2" width="8.2" height="6.2" fill="#22ab94"/>
<rect x="253.95" y="610.2" width="8.2" height="4.2" fill="#ace5dc"/>
<rect x="263.01" y="613.1" width="8.2" height="1.3" fill="#ace5dc"/>
<rect x="272.06" y="614" width="8.2" height="0.6" fill="#ace5dc"/>
<rect x="281.11" y="614.4" width="8.2" height="1.1" fill="#ff5252"/>
<rect x="290.17" y="614.4" width="8.2" height="1.5" fill="#ff5252"/>
<rect x="299.22" y="614.4" width="8.2" height="4.5" fill="#ff5252"/>
<rect x="308.27" y="614.4" width="8.2" height="3.6" fill="#fccbcd"/>
<rect x="317.32" y="614.4" width="8.2" height="2" fill="#fccbcd"/>
<rect x="326.38" y="614.4" width="8.2" height="0.8" fill="#fccbcd"/>
<rect x="335.43" y="614.4" width="8.2" height="2" fill="#ff5252"/>
<rect x="344.48" y="614.4" width="8.2" height="1.1" fill="#fccbcd"/>
<rect x="353.54" y="614.4" width="8.2" height="0.8" fill="#ff5252"/>
<rect x="362.59" y="614.4" width="8.2" height="0.6" fill="#fccbcd"/>
<rect x="371.64" y="613.9" width="8.2" height="0.6" fill="#22ab94"/>
<rect x="380.7" y="614.4" width="8.2" height="1.1" fill="#ff5252"/>
<rect x="389.75" y="614.4" width="8.2" height="0.6" fill="#fccbcd"/>
<rect x="398.8" y="613.4" width="8.2" height="1" fill="#22ab94"/>
<rect x="407.86" y="614.4" width="8.2" height="2.4" fill="#ff5252"/>
<rect x="416.91" y="614.4" width="8.2" height="5.4" fill="#ff5252"/>
<rect x="425.96" y="614.4" width="8.2" height="6.3" fill="#ff5252"/>
<rect x="435.01" y="614.4" width="8.2" height="10.1" fill="#ff5252"/>
<rect x="444.07" y="614.4" width="8.2" height="11.4" fill="#ff5252"/>
<rect x="453.12" y="614.4" width="8.2" height="10.1" fill="#fccbcd"/>
<rect x="462.17" y="614.4" width="8.2" height="7.4" fill="#fccbcd"/>
<rect x="471.23" y="614.4" width="8.2" height="4.4" fill="#fccbcd"/>
<rect x="480.28" y="614.4" width="8.2" height="0.6" fill="#fccbcd"/>
<rect x="489.33" y="611.9" width="8.2" height="2.5" fill="#22ab94"/>
<rect x="498.38" y="611" width="8.2" height="3.4" fill="#22ab94"/>
<rect x="507.44" y="613.4" width="8.2" height="1" fill="#ace5dc"/>
<rect x="516.49" y="614.4" width="8.2" height="3.6" fill="#ff5252"/>
<rect x="525.54" y="614.4" width="8.2" height="1.3" fill="#fccbcd"/>
<rect x="534.6" y="614.4" width="8.2" height="3.6" fill="#ff5252"/>
<rect x="543.65" y="614.4" width="8.2" height="2" fill="#fccbcd"/>
<rect x="552.7" y="614.4" width="8.2" height="0.6" fill="#fccbcd"/>
<rect x="561.76" y="614.4" width="8.2" height="2.6" fill="#ff5252"/>
<rect x="570.81" y="614.4" width="8.2" height="3.7" fill="#ff5252"/>
<rect x="579.86" y="614.4" width="8.2" height="12" fill="#ff5252"/>
<rect x="588.91" y="614.4" width="8.2" height="16.3" fill="#ff5252"/>
<rect x="597.97" y="614.4" width="8.2" height="16.3" fill="#ff5252"/>
<rect x="607.02" y="614.4" width="8.2" height="18.4" fill="#ff5252"/>
<rect x="616.07" y="614.4" width="8.2" height="20" fill="#ff5252"/>
<rect x="625.13" y="614.4" width="8.2" height="20" fill="#fccbcd"/>
<rect x="634.18" y="614.4" width="8.2" height="20" fill="#ff5252"/>
<rect x="643.23" y="614.4" width="8.2" height="23.3" fill="#ff5252"/>
<rect x="652.29" y="614.4" width="8.2" height="16.9" fill="#fccbcd"/>
<rect x="661.34" y="614.4" width="8.2" height="10.2" fill="#fccbcd"/>
<rect x="670.39" y="614.4" width="8.2" height="5.2" fill="#fccbcd"/>
<rect x="679.45" y="614.4" width="8.2" height="3.4" fill="#fccbcd"/>
<rect x="688.5" y="614.4" width="8.2" height="5.2" fill="#ff5252"/>
<rect x="697.55" y="614.4" width="8.2" height="8.3" fill="#ff5252"/>
<rect x="706.6" y="614.4" width="8.2" height="13.6" fill="#ff5252"/>
<rect x="715.66" y="614.4" width="8.2" height="17.2" fill="#ff5252"/>
<rect x="724.71" y="614.4" width="8.2" height="20.2" fill="#ff5252"/>
<rect x="733.76" y="614.4" width="8.2" height="24.2" fill="#ff5252"/>
<rect x="742.82" y="614.4" width="8.2" height="19" fill="#fccbcd"/>
<rect x="751.87" y="614.4" width="8.2" height="15.6" fill="#fccbcd"/>
<rect x="760.92" y="614.4" width="8.2" height="17.5" fill="#ff5252"/>
<rect x="769.98" y="614.4" width="8.2" height="23.6" fill="#ff5252"/>
<rect x="779.03" y="614.4" width="8.2" height="19.7" fill="#fccbcd"/>
<rect x="788.08" y="614.4" width="8.2" height="18.1" fill="#fccbcd"/>
<rect x="797.13" y="614.4" width="8.2" height="13.6" fill="#fccbcd"/>
<rect x="806.19" y="614.4" width="8.2" height="10.7" fill="#fccbcd"/>
<rect x="815.24" y="614.4" width="8.2" height="5.4" fill="#fccbcd"/>
<rect x="824.29" y="611" width="8.2" height="3.4" fill="#22ab94"/>
<rect x="833.35" y="605.1" width="8.2" height="9.3" fill="#22ab94"/>
<rect x="842.4" y="598.1" width="8.2" height="16.3" fill="#22ab94"/>
<rect x="851.45" y="595.1" width="8.2" height="19.3" fill="#22ab94"/>
<rect x="860.51" y="597.9" width="8.2" height="16.5" fill="#ace5dc"/>
<rect x="869.56" y="604.4" width="8.2" height="10" fill="#ace5dc"/>
<rect x="878.61" y="604.1" width="8.2" height="10.3" fill="#22ab94"/>
<rect x="887.66" y="609.3" width="8.2" height="5.1" fill="#ace5dc"/>
<rect x="896.72" y="614.4" width="8.2" height="3.2" fill="#ff5252"/>
<rect x="905.77" y="614.4" width="8.2" height="10.6" fill="#ff5252"/>
<rect x="914.82" y="614.4" width="8.2" height="12.6" fill="#ff5252"/>
<rect x="923.88" y="614.4" width="8.2" height="14.6" fill="#ff5252"/>
<rect x="932.93" y="614.4" width="8.2" height="10.6" fill="#fccbcd"/>
<rect x="941.98" y="614.4" width="8.2" height="3.2" fill="#fccbcd"/>
<rect x="951.04" y="614.4" width="8.2" height="1.3" fill="#fccbcd"/>
<rect x="960.09" y="608.4" width="8.2" height="6" fill="#22ab94"/>
<rect x="969.14" y="604.4" width="8.2" height="10" fill="#22ab94"/>
<rect x="978.19" y="600.4" width="8.2" height="14" fill="#22ab94"/>
<rect x="987.25" y="597.1" width="8.2" height="17.3" fill="#22ab94"/>
<rect x="996.3" y="598.5" width="8.2" height="15.9" fill="#ace5dc"/>
<rect x="1005.35" y="602.2" width="8.2" height="12.2" fill="#ace5dc"/>
<rect x="1014.41" y="605.3" width="8.2" height="9.1" fill="#ace5dc"/>
<rect x="1023.46" y="608.1" width="8.2" height="6.3" fill="#ace5dc"/>
<rect x="1032.51" y="608.1" width="8.2" height="6.3" fill="#ace5dc"/>
<rect x="1041.57" y="606.1" width="8.2" height="8.3" fill="#22ab94"/>
<polyline fill="none" stroke="#2962ff" stroke-width="1" points="19,572.2 22.68,571 31.73,568.9 40.78,565.2 49.83,561.5 58.89,559.7 67.94,558.2 76.99,557 86.05,555.4 95.1,552.9 104.15,553.3 113.21,552.3 122.26,555.7 131.31,553.8 140.37,551.3 149.42,551.3 158.47,554.5 167.52,556.9 176.58,557.1 185.63,558.1 194.68,557.1 203.74,555.9 212.79,552.2 221.84,548.5 230.9,545.8 239.95,544.6 249,543.4 258.05,545.5 267.11,547 276.16,547.9 285.21,547.9 294.27,549.5 303.32,554.1 312.37,554.4 321.43,552.8 330.48,552 339.53,552.8 348.58,552 357.64,552 366.69,551.6 375.74,551.2 384.8,552.5 393.85,551.6 402.9,551.2 411.96,553.4 421.01,556.9 430.06,560.2 439.11,565.7 448.17,570.4 457.22,571.4 466.27,570.4 475.33,567.7 484.38,564.3 493.43,561.4 502.49,560.5 511.54,562.7 520.59,566.4 529.64,566.8 538.7,567.7 547.75,567 556.8,566.4 565.86,567.7 574.91,570.5 583.96,580.3 593.01,588.9 602.07,593.8 611.12,599.3 620.17,606.7 629.23,612.3 638.28,619 647.33,625.2 656.39,623.7 665.44,619.6 674.49,615.9 683.55,615.1 692.6,617.2 701.65,622.7 710.7,631.7 719.76,638.6 728.81,648.1 737.86,657.5 746.92,657.5 755.97,657.7 765.02,666.3 774.08,675.2 783.13,677.1 792.18,679.2 801.23,678.9 810.29,677.6 819.34,673.1 828.39,663.2 837.45,653.8 846.5,644.8 855.55,636.7 864.61,636.4 873.66,639.3 882.71,637.3 891.76,641.6 900.82,650.2 909.87,658.8 918.92,664.7 927.98,670.5 937.03,668.6 946.08,663.1 955.14,660.2 964.19,652 973.24,645.2 982.29,638.1 991.35,630.9 1000.4,628.5 1009.45,628.3 1018.51,629 1027.56,630.7 1036.61,628.6 1045.66,624.5"/>
<polyline fill="none" stroke="#f09020" stroke-width="1" points="19,574.7 22.68,573.8 31.73,572.2 40.78,570.1 49.83,568.3 58.89,566.4 67.94,564.6 76.99,563.4 86.05,561.9 95.1,560.3 104.15,559.1 113.21,557.8 122.26,557 131.31,556.2 140.37,555 149.42,554.5 158.47,554.7 167.52,555.3 176.58,555.7 185.63,556.1 194.68,556.1 203.74,555.9 212.79,554.9 221.84,553.2 230.9,552 239.95,550.4 249,549.1 258.05,548.3 267.11,547.9 276.16,547.9 285.21,548.3 294.27,548.8 303.32,549.8 312.37,550.7 321.43,551 330.48,551.2 339.53,551.2 348.58,551.2 357.64,551.2 366.69,551.2 375.74,551.2 384.8,551.2 393.85,551.2 402.9,551.2 411.96,552 421.01,553.4 430.06,555.3 439.11,557.3 448.17,560.5 457.22,562.7 466.27,564.1 475.33,564.6 484.38,564.1 493.43,563.2 502.49,562.7 511.54,563 520.59,563.6 529.64,564.3 538.7,565 547.75,565.4 556.8,565.4 565.86,565.9 574.91,567 583.96,570.5 593.01,574.8 602.07,579.7 611.12,584.6 620.17,590.1 629.23,595.7 638.28,600.6 647.33,604.5 656.39,608 665.44,610.2 674.49,611.4 683.55,612.3 692.6,613.1 701.65,615.1 710.7,619.3 719.76,625.1 728.81,630 737.86,635.6 746.92,639.9 755.97,643.6 765.02,648.1 774.08,653.8 783.13,658.3 792.18,662 801.23,665.1 810.29,667.5 819.34,668.5 828.39,666.9 837.45,663.9 846.5,659.6 855.55,655.3 864.61,652.4 873.66,649.2 882.71,647.1 891.76,646.2 900.82,647.1 909.87,649.6 918.92,653.2 927.98,656.3 937.03,658.5 946.08,659.4 955.14,659 964.19,656.9 973.24,653.2 982.29,649.6 991.35,646.1 1000.4,643.4 1009.45,640.6 1018.51,638.1 1027.56,636 1036.61,634.2 1045.66,633"/>
</g>
<line x1="891.5" y1="26" x2="891.5" y2="692" stroke="#f0a840" stroke-opacity="0.85" stroke-width="1" stroke-dasharray="2.2,2.05"/>
<line x1="927.4" y1="26" x2="927.4" y2="692" stroke="#f0a840" stroke-opacity="0.85" stroke-width="1" stroke-dasharray="2.2,2.05"/>
<line x1="963.9" y1="26" x2="963.9" y2="692" stroke="#a08858" stroke-opacity="0.85" stroke-width="1" stroke-dasharray="2.2,2.05"/>
<line x1="1009.4" y1="26" x2="1009.4" y2="692" stroke="#f0a840" stroke-opacity="0.85" stroke-width="1" stroke-dasharray="2.2,2.05"/>
<line x1="1045.5" y1="26" x2="1045.5" y2="692" stroke="#e8c890" stroke-opacity="0.85" stroke-width="1" stroke-dasharray="2.2,2.05"/>
<ellipse cx="1045.4" cy="351.8" rx="8.8" ry="5.6" fill="#1a0f2a" stroke="#9c4dcc" stroke-width="1.2"/>
<path d="M1047.5,348.6 L1043.2,352.2 L1046.4,352.0 L1043.4,355.2" fill="none" stroke="#b060e0" stroke-width="1.1"/>
<text x="25.8" y="37.2" font-size="7.1" fill="#c3c6cf" font-weight="normal" stroke="#c3c6cf" stroke-width="0.25" textLength="183.6" lengthAdjust="spacingAndGlyphs">S&amp;P 500 E-mini Futures, 1W, CME_MINI</text>
<text x="216" y="37.2" font-size="7.1" fill="#c3c6cf" font-weight="normal" stroke="#c3c6cf" stroke-width="0.25" textLength="6.9" lengthAdjust="spacingAndGlyphs">O</text>
<text x="223.3" y="37.2" font-size="7.1" fill="#089981" font-weight="normal" stroke="#089981" stroke-width="0.25" textLength="36.1" lengthAdjust="spacingAndGlyphs">3918.50</text>
<text x="267.5" y="37.2" font-size="7.1" fill="#c3c6cf" font-weight="normal" stroke="#c3c6cf" stroke-width="0.25" textLength="5.4" lengthAdjust="spacingAndGlyphs">H</text>
<text x="273.4" y="37.2" font-size="7.1" fill="#089981" font-weight="normal" stroke="#089981" stroke-width="0.25" textLength="37.3" lengthAdjust="spacingAndGlyphs">4021.50</text>
<text x="317.9" y="37.2" font-size="7.1" fill="#c3c6cf" font-weight="normal" stroke="#c3c6cf" stroke-width="0.25" textLength="4.6" lengthAdjust="spacingAndGlyphs">L</text>
<text x="323.2" y="37.2" font-size="7.1" fill="#089981" font-weight="normal" stroke="#089981" stroke-width="0.25" textLength="36.2" lengthAdjust="spacingAndGlyphs">3891.50</text>
<text x="366.5" y="37.2" font-size="7.1" fill="#c3c6cf" font-weight="normal" stroke="#c3c6cf" stroke-width="0.25" textLength="5.6" lengthAdjust="spacingAndGlyphs">C</text>
<text x="372.5" y="37.2" font-size="7.1" fill="#089981" font-weight="normal" stroke="#089981" stroke-width="0.25" textLength="37.1" lengthAdjust="spacingAndGlyphs">4003.50</text>
<text x="416.9" y="37.2" font-size="7.1" fill="#089981" font-weight="normal" stroke="#089981" stroke-width="0.25" textLength="74.3" lengthAdjust="spacingAndGlyphs">+88.00 (+2.25%)</text>
<text x="25.8" y="47.8" font-size="7.1" fill="#c3c6cf" font-weight="normal" stroke="#c3c6cf" stroke-width="0.25" textLength="118.5" lengthAdjust="spacingAndGlyphs">MA (50, close, 0, SMA, 5)</text>
<text x="150.6" y="47.8" font-size="7.1" fill="#c8d6ee" font-weight="bold" textLength="37.3" lengthAdjust="spacingAndGlyphs">4052.80</text>
<text x="25.8" y="57.9" font-size="7.1" fill="#c3c6cf" font-weight="normal" stroke="#c3c6cf" stroke-width="0.25" textLength="123.9" lengthAdjust="spacingAndGlyphs">MA (200, close, 0, SMA, 5)</text>
<text x="156.3" y="57.9" font-size="7.1" fill="#e8dc50" font-weight="bold" textLength="36.7" lengthAdjust="spacingAndGlyphs">3677.27</text>
<text x="25.8" y="67.4" font-size="7.1" fill="#c3c6cf" font-weight="normal" stroke="#c3c6cf" stroke-width="0.25" textLength="13.8" lengthAdjust="spacingAndGlyphs">Vol</text>
<text x="46.7" y="67.4" font-size="7.1" fill="#1fa08e" font-weight="normal" stroke="#1fa08e" stroke-width="0.25" textLength="33.4" lengthAdjust="spacingAndGlyphs">6.506M</text>
<text x="26" y="371.2" font-size="7.1" fill="#c3c6cf" font-weight="normal" stroke="#c3c6cf" stroke-width="0.25" textLength="124.2" lengthAdjust="spacingAndGlyphs">RSI (14, close, SMA, 14, 2)</text>
<text x="156.8" y="371.2" font-size="7.1" fill="#6f60c4" font-weight="normal" stroke="#6f60c4" stroke-width="0.25" textLength="25.8" lengthAdjust="spacingAndGlyphs">52.14</text>
<text x="189" y="371.2" font-size="7.1" fill="#e8dc50" font-weight="bold" textLength="26" lengthAdjust="spacingAndGlyphs">47.93</text>
<text x="222" y="371.2" font-size="7.1" fill="#c3c6cf" font-weight="normal" stroke="#c3c6cf" stroke-width="0.25" textLength="6" lengthAdjust="spacingAndGlyphs">ø</text>
<text x="235.5" y="371.2" font-size="7.1" fill="#c3c6cf" font-weight="normal" stroke="#c3c6cf" stroke-width="0.25" textLength="6.1" lengthAdjust="spacingAndGlyphs">ø</text>
<text x="26" y="538.2" font-size="7.1" fill="#c3c6cf" font-weight="normal" stroke="#c3c6cf" stroke-width="0.25" textLength="163.5" lengthAdjust="spacingAndGlyphs">MACD (12, 26, close, 9, EMA, EMA)</text>
<text x="196.4" y="538.2" font-size="7.1" fill="#22ab94" font-weight="normal" stroke="#22ab94" stroke-width="0.25" textLength="25.6" lengthAdjust="spacingAndGlyphs">20.92</text>
<text x="228.8" y="538.2" font-size="7.1" fill="#2962ff" font-weight="normal" stroke="#2962ff" stroke-width="0.25" textLength="31.5" lengthAdjust="spacingAndGlyphs">−25.32</text>
<text x="267" y="538.2" font-size="7.1" fill="#ff9800" font-weight="normal" stroke="#ff9800" stroke-width="0.25" textLength="31" lengthAdjust="spacingAndGlyphs">−46.24</text>
<text x="1150.4" y="35.9" font-size="7" fill="#b2b5be" font-weight="normal" stroke="#b2b5be" stroke-width="0.25" textLength="18.5" lengthAdjust="spacingAndGlyphs">USD</text>
<text x="1150" y="63.15" font-size="8.2" fill="#b2b5be" font-weight="normal" stroke="#b2b5be" stroke-width="0.25" textLength="37.1" lengthAdjust="spacingAndGlyphs">4800.00</text>
<text x="1150" y="90.45" font-size="8.2" fill="#b2b5be" font-weight="normal" stroke="#b2b5be" stroke-width="0.25" textLength="37.1" lengthAdjust="spacingAndGlyphs">4600.00</text>
<text x="1150" y="117.85" font-size="8.2" fill="#b2b5be" font-weight="normal" stroke="#b2b5be" stroke-width="0.25" textLength="37.1" lengthAdjust="spacingAndGlyphs">4400.00</text>
<text x="1150" y="145.15" font-size="8.2" fill="#b2b5be" font-weight="normal" stroke="#b2b5be" stroke-width="0.25" textLength="37.1" lengthAdjust="spacingAndGlyphs">4200.00</text>
<text x="1150" y="199.75" font-size="8.2" fill="#b2b5be" font-weight="normal" stroke="#b2b5be" stroke-width="0.25" textLength="37.1" lengthAdjust="spacingAndGlyphs">3800.00</text>
<text x="1150" y="227.05" font-size="8.2" fill="#b2b5be" font-weight="normal" stroke="#b2b5be" stroke-width="0.25" textLength="37.1" lengthAdjust="spacingAndGlyphs">3600.00</text>
<text x="1150" y="254.45" font-size="8.2" fill="#b2b5be" font-weight="normal" stroke="#b2b5be" stroke-width="0.25" textLength="37.1" lengthAdjust="spacingAndGlyphs">3400.00</text>
<text x="1150" y="281.75" font-size="8.2" fill="#b2b5be" font-weight="normal" stroke="#b2b5be" stroke-width="0.25" textLength="37.1" lengthAdjust="spacingAndGlyphs">3200.00</text>
<text x="1150" y="309.05" font-size="8.2" fill="#b2b5be" font-weight="normal" stroke="#b2b5be" stroke-width="0.25" textLength="37.1" lengthAdjust="spacingAndGlyphs">3000.00</text>
<text x="1150" y="336.35" font-size="8.2" fill="#b2b5be" font-weight="normal" stroke="#b2b5be" stroke-width="0.25" textLength="37.1" lengthAdjust="spacingAndGlyphs">2800.00</text>
<rect x="1141.1" y="144.1" width="52.6" height="10.4" fill="#ff9800"/>
<text x="1150.7" y="152.35" font-size="8.2" fill="#1b1408" font-weight="normal" stroke="#1b1408" stroke-width="0.25" textLength="36.6" lengthAdjust="spacingAndGlyphs">4056.00</text>
<rect x="1141.1" y="154.5" width="52.6" height="9.5" fill="#c6dbf3"/>
<text x="1150.7" y="162.15" font-size="8.2" fill="#1c2538" font-weight="normal" stroke="#1c2538" stroke-width="0.25" textLength="36.6" lengthAdjust="spacingAndGlyphs">4052.75</text>
<rect x="1141.1" y="164" width="55.9" height="18.3" fill="#089981"/>
<text x="1150.7" y="172.25" font-size="8.2" fill="#ffffff" font-weight="normal" stroke="#ffffff" stroke-width="0.25" textLength="36.9" lengthAdjust="spacingAndGlyphs">4003.50</text>
<text x="1150.7" y="180.35" font-size="8.2" fill="#ffffff" font-weight="normal" stroke="#ffffff" stroke-width="0.25" textLength="40.6" lengthAdjust="spacingAndGlyphs">23:55:00</text>
<rect x="1141.1" y="208.2" width="52.5" height="10.8" fill="#f5e52e"/>
<text x="1151" y="216.35" font-size="8.2" fill="#1e1c08" font-weight="normal" stroke="#1e1c08" stroke-width="0.25" textLength="36.2" lengthAdjust="spacingAndGlyphs">3677.25</text>
<rect x="1141.1" y="316.8" width="48.9" height="10" fill="#1fa08e"/>
<text x="1150.7" y="324.75" font-size="8.2" fill="#ffffff" font-weight="normal" stroke="#ffffff" stroke-width="0.25" textLength="31.3" lengthAdjust="spacingAndGlyphs">6.506M</text>
<text x="1150" y="391.45" font-size="8.2" fill="#b2b5be" font-weight="normal" stroke="#b2b5be" stroke-width="0.25" textLength="26.1" lengthAdjust="spacingAndGlyphs">70.00</text>
<text x="1150" y="422.55" font-size="8.2" fill="#b2b5be" font-weight="normal" stroke="#b2b5be" stroke-width="0.25" textLength="26.1" lengthAdjust="spacingAndGlyphs">60.00</text>
<text x="1150" y="453.65" font-size="8.2" fill="#b2b5be" font-weight="normal" stroke="#b2b5be" stroke-width="0.25" textLength="26.1" lengthAdjust="spacingAndGlyphs">50.00</text>
<text x="1150" y="484.45" font-size="8.2" fill="#b2b5be" font-weight="normal" stroke="#b2b5be" stroke-width="0.25" textLength="26.1" lengthAdjust="spacingAndGlyphs">40.00</text>
<text x="1150" y="515.55" font-size="8.2" fill="#b2b5be" font-weight="normal" stroke="#b2b5be" stroke-width="0.25" textLength="26.1" lengthAdjust="spacingAndGlyphs">30.00</text>
<rect x="1141.1" y="439.3" width="40.4" height="9.5" fill="#7e57c2"/>
<text x="1150.7" y="446.95" font-size="8.2" fill="#ffffff" font-weight="normal" stroke="#ffffff" stroke-width="0.25" textLength="25.2" lengthAdjust="spacingAndGlyphs">52.14</text>
<rect x="1141.1" y="452.2" width="40.4" height="10.3" fill="#f5e52e"/>
<text x="1150.7" y="460.25" font-size="8.2" fill="#1e1c08" font-weight="normal" stroke="#1e1c08" stroke-width="0.25" textLength="25.2" lengthAdjust="spacingAndGlyphs">47.93</text>
<text x="1150" y="535.95" font-size="8.2" fill="#b2b5be" font-weight="normal" stroke="#b2b5be" stroke-width="0.25" textLength="31.4" lengthAdjust="spacingAndGlyphs">200.00</text>
<text x="1150" y="556.55" font-size="8.2" fill="#b2b5be" font-weight="normal" stroke="#b2b5be" stroke-width="0.25" textLength="31.4" lengthAdjust="spacingAndGlyphs">150.00</text>
<text x="1150" y="576.75" font-size="8.2" fill="#b2b5be" font-weight="normal" stroke="#b2b5be" stroke-width="0.25" textLength="31.4" lengthAdjust="spacingAndGlyphs">100.00</text>
<text x="1150" y="596.65" font-size="8.2" fill="#b2b5be" font-weight="normal" stroke="#b2b5be" stroke-width="0.25" textLength="26.1" lengthAdjust="spacingAndGlyphs">50.00</text>
<text x="1150" y="617.55" font-size="8.2" fill="#b2b5be" font-weight="normal" stroke="#b2b5be" stroke-width="0.25" textLength="20.1" lengthAdjust="spacingAndGlyphs">0.00</text>
<text x="1150" y="657.75" font-size="8.2" fill="#b2b5be" font-weight="normal" stroke="#b2b5be" stroke-width="0.25" textLength="37" lengthAdjust="spacingAndGlyphs">−100.00</text>
<text x="1150" y="678.15" font-size="8.2" fill="#b2b5be" font-weight="normal" stroke="#b2b5be" stroke-width="0.25" textLength="37" lengthAdjust="spacingAndGlyphs">−150.00</text>
<rect x="1141.1" y="600.9" width="40.7" height="10.3" fill="#22ab94"/>
<text x="1150.7" y="608.95" font-size="8.2" fill="#ffffff" font-weight="normal" stroke="#ffffff" stroke-width="0.25" textLength="25.2" lengthAdjust="spacingAndGlyphs">20.92</text>
<rect x="1141.1" y="619.7" width="45.9" height="9.8" fill="#2962ff"/>
<text x="1150.9" y="627.55" font-size="8.2" fill="#ffffff" font-weight="normal" stroke="#ffffff" stroke-width="0.25" textLength="30.7" lengthAdjust="spacingAndGlyphs">−25.32</text>
<rect x="1141.1" y="629.5" width="45.9" height="10.4" fill="#ff9800"/>
<text x="1150.9" y="637.65" font-size="8.2" fill="#1b1408" font-weight="normal" stroke="#1b1408" stroke-width="0.25" textLength="30.7" lengthAdjust="spacingAndGlyphs">−46.24</text>
<text x="83" y="704.2" font-size="7.4" fill="#b2b5be" font-weight="bold" stroke="#b2b5be" stroke-width="0.25" textLength="23.2" lengthAdjust="spacingAndGlyphs">2021</text>
<text x="158.6" y="704.2" font-size="7.4" fill="#b2b5be" font-weight="normal" stroke="#b2b5be" stroke-width="0.25" textLength="17.2" lengthAdjust="spacingAndGlyphs">Mar</text>
<text x="239.7" y="704.2" font-size="7.4" fill="#b2b5be" font-weight="normal" stroke="#b2b5be" stroke-width="0.25" textLength="18" lengthAdjust="spacingAndGlyphs">May</text>
<text x="323.6" y="704.2" font-size="7.4" fill="#b2b5be" font-weight="normal" stroke="#b2b5be" stroke-width="0.25" textLength="13.4" lengthAdjust="spacingAndGlyphs">Jul</text>
<text x="403" y="704.2" font-size="7.4" fill="#b2b5be" font-weight="normal" stroke="#b2b5be" stroke-width="0.25" textLength="17" lengthAdjust="spacingAndGlyphs">Sep</text>
<text x="475.4" y="704.2" font-size="7.4" fill="#b2b5be" font-weight="normal" stroke="#b2b5be" stroke-width="0.25" textLength="18" lengthAdjust="spacingAndGlyphs">Nov</text>
<text x="553.4" y="704.2" font-size="7.4" fill="#b2b5be" font-weight="bold" stroke="#b2b5be" stroke-width="0.25" textLength="24.6" lengthAdjust="spacingAndGlyphs">2022</text>
<text x="637.7" y="704.2" font-size="7.4" fill="#b2b5be" font-weight="normal" stroke="#b2b5be" stroke-width="0.25" textLength="17.3" lengthAdjust="spacingAndGlyphs">Mar</text>
<text x="710" y="704.2" font-size="7.4" fill="#b2b5be" font-weight="normal" stroke="#b2b5be" stroke-width="0.25" textLength="18" lengthAdjust="spacingAndGlyphs">May</text>
<text x="794" y="704.2" font-size="7.4" fill="#b2b5be" font-weight="normal" stroke="#b2b5be" stroke-width="0.25" textLength="13.5" lengthAdjust="spacingAndGlyphs">Jul</text>
<text x="1108.8" y="704.2" font-size="7.4" fill="#b2b5be" font-weight="normal" stroke="#b2b5be" stroke-width="0.25" textLength="17.6" lengthAdjust="spacingAndGlyphs">Mar</text>
<rect x="884.9" y="693" width="84.7" height="13.8" fill="#ff9800"/>
<svg x="884.9" y="690" width="84.7" height="20" overflow="hidden"><g transform="translate(-884.9,-690)">
<text x="892.9" y="703.4" font-size="7.4" fill="#1b1408" font-weight="normal" stroke="#1b1408" stroke-width="0.25" textLength="69" lengthAdjust="spacingAndGlyphs">Mon 10 Oct '22</text>
</g></svg>
<rect x="921.4" y="693" width="84.7" height="13.8" fill="#ff9800"/>
<svg x="921.4" y="690" width="84.7" height="20" overflow="hidden"><g transform="translate(-921.4,-690)">
<text x="929.4" y="703.4" font-size="7.4" fill="#1b1408" font-weight="normal" stroke="#1b1408" stroke-width="0.25" textLength="69" lengthAdjust="spacingAndGlyphs">Mon 07 Nov '22</text>
</g></svg>
<rect x="963.6" y="693" width="88" height="13.8" fill="#ff9800"/>
<svg x="963.6" y="690" width="88" height="20" overflow="hidden"><g transform="translate(-963.6,-690)">
<text x="974.9" y="703.4" font-size="7.4" fill="#1b1408" font-weight="normal" stroke="#1b1408" stroke-width="0.25" textLength="69" lengthAdjust="spacingAndGlyphs">Mon 12 Dec '22</text>
</g></svg>
<rect x="1003.1" y="693" width="84.7" height="13.8" fill="#ff9800"/>
<svg x="1003.1" y="690" width="84.7" height="20" overflow="hidden"><g transform="translate(-1003.1,-690)">
<text x="1011.1" y="703.4" font-size="7.4" fill="#1b1408" font-weight="normal" stroke="#1b1408" stroke-width="0.25" textLength="69" lengthAdjust="spacingAndGlyphs">Mon 09 Jan '23</text>
</g></svg>
<rect x="849" y="693" width="84.7" height="13.8" fill="#ff9800"/>
<svg x="849" y="690" width="84.7" height="20" overflow="hidden"><g transform="translate(-849,-690)">
<text x="857" y="703.4" font-size="7.4" fill="#1b1408" font-weight="normal" stroke="#1b1408" stroke-width="0.25" textLength="69" lengthAdjust="spacingAndGlyphs">Mon 12 Sep '22</text>
</g></svg>
<g fill="#d1d4dc"><rect x="19.1" y="716.3" width="6.0" height="2.0"/><rect x="22.0" y="716.3" width="3.1" height="5.5"/><circle cx="27.6" cy="717.5" r="1.2"/><polygon points="30.8,716.3 35.8,716.3 32.2,721.8 28.4,721.8"/></g>
<text x="39.3" y="722.2" font-size="7.6" fill="#d1d4dc" font-weight="normal" stroke="#d1d4dc" stroke-width="0.25" textLength="62" lengthAdjust="spacingAndGlyphs">TradingView</text>
</svg>
</body></html>
